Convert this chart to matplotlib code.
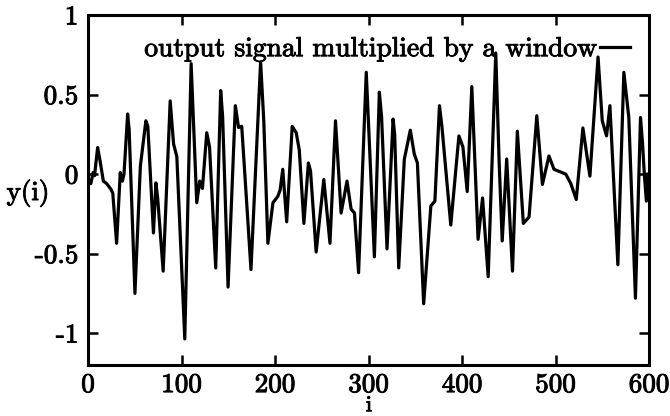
import matplotlib
matplotlib.use("Agg")
import matplotlib.pyplot as plt
import matplotlib.patheffects as pe

# ---- data ----
i_values = [0, 3, 5.5, 7, 10.3, 13, 16.4, 20, 24.5, 26.5, 30.6, 34.5, 36.8, 38.5,
            42.4, 44, 50.2, 56, 61.9, 64, 70, 72.6, 74.5, 80.4, 87.9, 91.5, 95,
            103.5, 110.3, 116.3, 119.5, 122.4, 127, 130, 136.6, 141.9, 144, 149.8,
            157.6, 161, 164.4, 167.3, 174.3, 184.6, 188, 192.4, 197.8, 203, 205.5,
            208.3, 212.5, 218.4, 222.7, 226, 230.9, 235.7, 238, 244, 252.2, 258.8,
            264.7, 270.7, 277, 281.4, 285, 289.4, 297.6, 306.3, 311.6, 314, 319.8,
            326.3, 328, 332.3, 338.3, 344.7, 349, 352.3, 359, 366.7, 371, 375.9,
            378.5, 388, 396.7, 401, 405.6, 410.5, 417.2, 422, 428, 436.1, 439.7,
            443, 447.8, 454, 459.2, 465.6, 471.7, 480, 486, 493, 498.4, 505.5, 511,
            516.4, 522.2, 529.3, 536.8, 545.5, 550, 554.6, 558.2, 566.7, 573.1,
            578.4, 585.5, 590.9, 593, 595, 597.2, 598.6]
y_values = [-0.03, -0.06, 0.01, -0.01, 0.167, 0.08, -0.044, -0.06, -0.095, -0.12,
            -0.435, 0.01, -0.044, 0.0, 0.378, 0.28, -0.75, 0.05, 0.335, 0.30,
            -0.37, -0.055, -0.15, -0.61, 0.46, 0.19, 0.11, -1.036, 0.694, -0.18,
            -0.044, -0.09, 0.26, 0.17, -0.59, 0.525, 0.36, -0.71, 0.43, 0.293,
            0.30, 0.04, -0.60, 0.705, 0.335, -0.435, -0.18, -0.14, -0.10, 0.03,
            -0.30, 0.30, 0.26, 0.15, -0.31, 0.07, 0.02, -0.49, -0.034, -0.435,
            0.335, -0.245, -0.044, -0.22, -0.245, -0.62, 0.64, -0.52, 0.515, 0.36,
            -0.47, 0.346, 0.25, -0.59, 0.093, 0.276, 0.125, 0.07, -0.815, -0.20,
            -0.17, 0.43, 0.30, -0.32, 0.24, 0.17, -0.11, 0.55, -0.41, -0.15,
            -0.645, 0.76, 0.08, -0.42, 0.095, -0.61, 0.27, -0.31, -0.27, 0.367,
            -0.065, 0.114, 0.03, 0.013, 0.0, -0.06, -0.16, 0.29, -0.013, 0.736,
            0.335, 0.24, 0.43, -0.57, 0.64, 0.356, -0.78, 0.356, 0.2, 0.0, -0.17,
            0.0]

x_ticks = [0, 100, 200, 300, 400, 500, 600]
x_tick_labels = ["0", "100", "200", "300", "400", "500", "600"]
y_ticks = [-1, -0.5, 0, 0.5, 1]
y_tick_labels = ["-1", "-0.5", "0", "0.5", "1"]
legend_label = "output signal multiplied by a window"

FS = 19.5
plt.rcParams['font.family'] = ['cmr10', 'DejaVu Serif']
plt.rcParams['axes.unicode_minus'] = False
thick = [pe.withStroke(linewidth=0.7, foreground='black')]

fig = plt.figure(figsize=(6.7, 4.16), dpi=100)
ax = fig.add_axes([88/670, 1-365/416, (649-88)/670, (365-15)/416])

line, = ax.plot(i_values, y_values, color='black', linewidth=2.3,
                solid_joinstyle='round')

ax.set_xlim(0, 600)
ax.set_ylim(-1.2, 1)
ax.set_xticks(x_ticks)
ax.set_xticklabels(x_tick_labels)
ax.set_yticks(y_ticks)
ax.set_yticklabels(y_tick_labels)

for s in ax.spines.values():
    s.set_linewidth(2.2)
ax.tick_params(direction='in', length=7, width=1.8, top=True, right=True,
               labelsize=FS)
ax.tick_params(axis='x', pad=6)
ax.tick_params(axis='y', pad=7)
for t in ax.get_xticklabels() + ax.get_yticklabels():
    t.set_path_effects(thick)

# x label "i" just under the 300 tick label, as in the reference
fig.text((88 + 281) / 670, 0.002, "i", fontsize=16, ha='center', va='bottom',
         path_effects=thick)
ax.set_ylabel("y(i)", fontsize=FS, rotation=0, ha='center', va='center',
              path_effects=thick)
ax.yaxis.set_label_coords(-0.107, 0.49)

leg = ax.legend([line], [legend_label], loc='center right', frameon=False,
                fontsize=19.8, markerfirst=False, handlelength=1.1,
                handletextpad=0.12, borderaxespad=0.0, borderpad=0.0,
                bbox_to_anchor=((630-88)/561, (365-49)/350))
for t in leg.get_texts():
    t.set_path_effects(thick)

fig.savefig("out.png", dpi=100)
